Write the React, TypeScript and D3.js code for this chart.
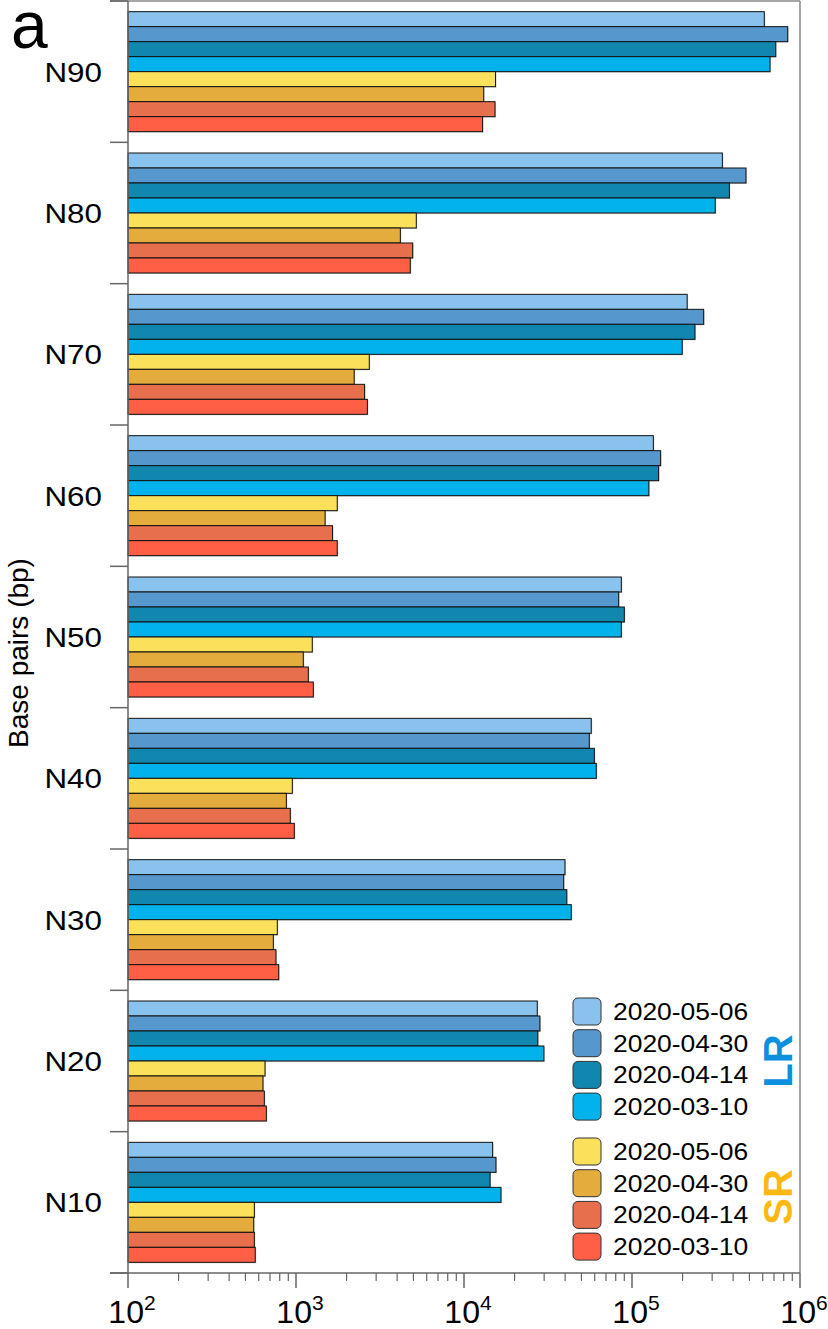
import React from "react";
import * as d3 from "d3";

const categories = ["N90", "N80", "N70", "N60", "N50", "N40", "N30", "N20", "N10"];
const seriesNames = ["2020-05-06", "2020-04-30", "2020-04-14", "2020-03-10"];
const groupNames = ["LR", "SR"];

const lr0506 = [6.13e5, 3.45e5, 2.13e5, 1.34e5, 8.64e4, 5.72e4, 3.99e4, 2.73e4, 1.48e4];
const lr0430 = [8.45e5, 4.77e5, 2.67e5, 1.48e5, 8.33e4, 5.57e4, 3.92e4, 2.83e4, 1.55e4];
const lr0414 = [7.17e5, 3.8e5, 2.37e5, 1.44e5, 9.0e4, 5.97e4, 4.09e4, 2.75e4, 1.43e4];
const lr0310 = [6.63e5, 3.13e5, 1.99e5, 1.26e5, 8.64e4, 6.13e4, 4.35e4, 2.99e4, 1.66e4];
const sr0506 = [1.54e4, 5200, 2730, 1760, 1250, 951, 774, 654, 565];
const sr0430 = [1.31e4, 4180, 2220, 1490, 1105, 876, 733, 636, 560];
const sr0414 = [1.53e4, 4950, 2560, 1650, 1184, 925, 760, 648, 565];
const sr0310 = [1.29e4, 4790, 2660, 1760, 1268, 977, 789, 666, 572];

const xTickExps = [2, 3, 4, 5, 6];

const series = [
  { key: "LR 2020-05-06", values: lr0506, color: "#89C3ED" },
  { key: "LR 2020-04-30", values: lr0430, color: "#5697CD" },
  { key: "LR 2020-04-14", values: lr0414, color: "#1187AF" },
  { key: "LR 2020-03-10", values: lr0310, color: "#02B2EA" },
  { key: "SR 2020-05-06", values: sr0506, color: "#FAE05B" },
  { key: "SR 2020-04-30", values: sr0430, color: "#E4AB3D" },
  { key: "SR 2020-04-14", values: sr0414, color: "#E86F4E" },
  { key: "SR 2020-03-10", values: sr0310, color: "#FE5F45" },
];

const W = 828;
const H = 1329;
const left = 128;
const right = 800;
const top = 1;
const bottom = 1273;

export default function App() {
  const x = d3.scaleLog().domain([1e2, 1e6]).range([left, right]);
  const y = d3.scaleBand<string>().domain(categories).range([top, bottom]).paddingInner(0).paddingOuter(0);
  const bw = y.bandwidth();
  const inner = d3
    .scaleBand<string>()
    .domain(series.map((s) => s.key))
    .range([(bw - 120) / 2, (bw + 120) / 2])
    .padding(0);
  const bh = inner.bandwidth();

  const boundaries = d3.range(categories.length + 1).map((i) => top + i * bw);
  const minorTicks: number[] = [];
  for (let e = 2; e < 6; e++) for (let m = 2; m <= 9; m++) minorTicks.push(m * Math.pow(10, e));

  const axisColor = "#666";
  const font = "'Liberation Sans', Arial, Helvetica, sans-serif";

  return (
    <svg width={W} height={H} style={{ position: "absolute", left: 0, top: 0, background: "#fff" }} fontFamily={font}>
      {/* bars */}
      {categories.map((c, ci) => (
        <g key={c} transform={`translate(0,${y(c)})`}>
          {series.map((s) => {
            const yy = inner(s.key)!;
            const w = x(s.values[ci]) - left;
            return (
              <g key={s.key}>
                <rect x={left + 1} y={yy + 1} width={w} height={bh} fill="#000" opacity={0.18} />
                <rect x={left} y={yy} width={w} height={bh} fill={s.color} stroke="#111" strokeWidth={1} />
              </g>
            );
          })}
        </g>
      ))}

      {/* frame */}
      <line x1={110} x2={right} y1={top} y2={top} stroke="#888" strokeWidth={1.5} />
      <line x1={right} x2={right} y1={top} y2={bottom} stroke="#888" strokeWidth={1.5} />
      <line x1={left} x2={left} y1={top} y2={bottom} stroke={axisColor} strokeWidth={1.5} />
      <line x1={110} x2={right} y1={bottom} y2={bottom} stroke={axisColor} strokeWidth={1.5} />

      {/* y ticks at band boundaries */}
      {boundaries.map((b, i) => (
        <line key={i} x1={110} x2={left} y1={b} y2={b} stroke={axisColor} strokeWidth={1.5} />
      ))}

      {/* y labels */}
      {categories.map((c) => (
        <text
          key={c}
          transform={`translate(102,${y(c)! + bw / 2 + 10}) scale(1.12,1)`}
          textAnchor="end"
          fontSize={28}
          fill="#000"
        >
          {c}
        </text>
      ))}

      {/* x ticks */}
      {xTickExps.map((e) => (
        <line key={e} x1={x(Math.pow(10, e))} x2={x(Math.pow(10, e))} y1={bottom} y2={bottom + 15} stroke={axisColor} strokeWidth={1.5} />
      ))}
      {minorTicks.map((v) => (
        <line key={v} x1={x(v)} x2={x(v)} y1={bottom} y2={bottom + 8} stroke={axisColor} strokeWidth={1.2} />
      ))}
      {xTickExps.map((e) => (
        <text key={e} x={x(Math.pow(10, e)) + 4} y={1323} textAnchor="middle" fontSize={32} fill="#000">
          <tspan>10</tspan>
          <tspan dy={-13} fontSize={21}>{e}</tspan>
        </text>
      ))}

      {/* axis title */}
      <text transform="translate(28,653) rotate(-90)" textAnchor="middle" fontSize={28} fill="#000">
        Base pairs (bp)
      </text>

      {/* panel letter */}
      <text x={11} y={48} fontSize={66} fill="#000">
        a
      </text>

      {/* legend */}
      {series.map((s, i) => {
        const ty = i < 4 ? 998 + i * 31.7 : 1138 + (i - 4) * 31.7;
        return (
          <g key={s.key}>
            <rect x={573} y={ty} width={28} height={27} rx={5} fill={s.color} stroke="#333" strokeWidth={1} />
            <text transform={`translate(613,${ty + 22}) scale(1.15,1)`} fontSize={23} fill="#000">
              {seriesNames[i % 4]}
            </text>
          </g>
        );
      })}
      <text transform="translate(792,1061) rotate(-90)" textAnchor="middle" fontSize={40} fontWeight="bold" fill="#0D8FE0">
        {groupNames[0]}
      </text>
      <text transform="translate(792,1197) rotate(-90)" textAnchor="middle" fontSize={40} fontWeight="bold" fill="#FDB813">
        {groupNames[1]}
      </text>
    </svg>
  );
}
